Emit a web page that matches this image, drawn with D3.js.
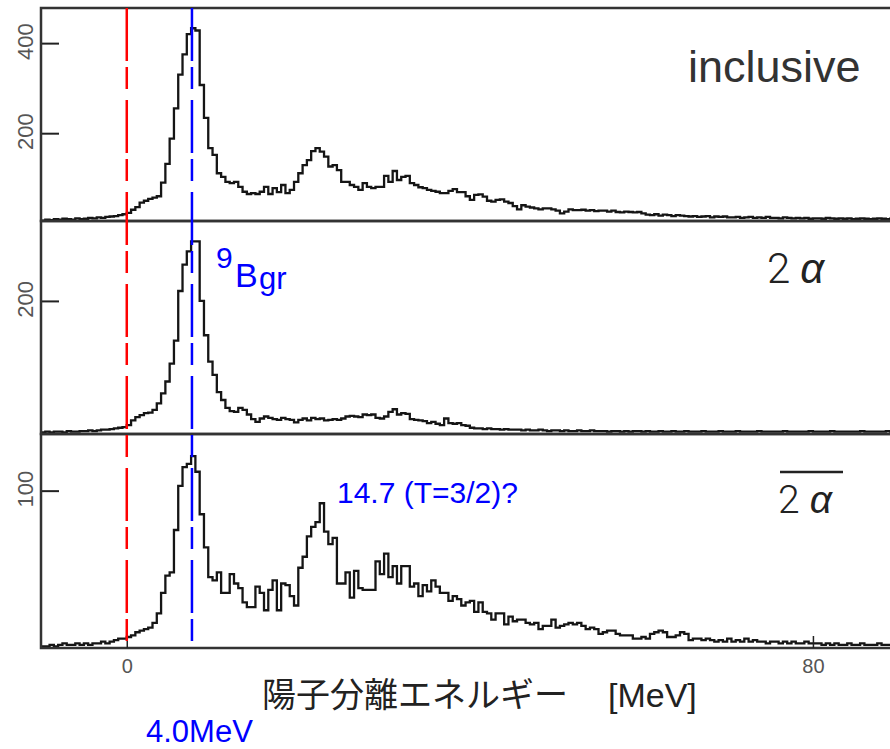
<!DOCTYPE html>
<html>
<head>
<meta charset="utf-8">
<script src="https://cdn.jsdelivr.net/npm/d3@7"></script>
<style>
  body { margin: 0; background: #fff; }
  text { font-family: "Liberation Sans", Arial, sans-serif; }
</style>
</head>
<body>
<svg id="chart" width="890" height="749"></svg>
<script>
// Histogram bins: 0.5 MeV wide, first bin starts at -10 MeV
const binStart = -10;
const binWidth = 0.5;

// counts per bin
const inclusiveCounts = [
  6,8,7,9,8,10,9,8,11,9,
  10,12,11,13,12,14,15,16,18,
  20,23,30,36,46,50,54,57,60,90,132,
  188,255,330,375,420,433,428,307,234,167,
  152,111,103,92,89,92,81,70,65,67,
  65,70,81,65,78,69,85,67,74,92,
  111,129,140,160,167,159,148,126,129,118,
  92,92,85,81,74,89,81,78,81,81,
  105,92,116,96,103,105,89,85,80,78,
  74,72,70,67,67,72,76,69,69,60,
  52,63,64,59,50,48,52,53,48,45,
  38,31,40,37,35,33,31,33,33,31,
  28,22,26,31,29,29,30,28,29,27,
  28,28,26,28,25,24,26,25,24,25,
  22,19,18,20,17,19,18,16,18,17,
  16,15,16,14,15,16,13,15,14,15,
  13,13,14,12,13,14,12,13,12,14,
  12,12,11,13,12,11,12,11,12,10,
  11,11,10,12,11,10,11,10,11,9,
  10,11,10,9,10,11,10,9,10,9
];

const twoAlphaCounts = [
  1,2,1,2,2,1,3,2,2,3,
  3,4,3,4,5,5,6,7,8,
  9,12,19,24,27,30,31,35,45,60,78,
  105,140,215,255,275,290,290,200,148,108,
  88,62,50,38,33,32,38,35,28,21,
  17,22,25,23,21,20,23,21,20,16,
  20,22,19,23,21,22,19,20,21,20,
  22,25,26,25,24,28,27,28,23,22,
  25,32,36,28,30,29,21,20,19,18,
  15,17,14,12,22,15,14,15,12,11,
  8,7,7,6,7,6,6,5,6,5,
  5,5,4,5,4,4,5,4,3,4,
  4,3,4,3,3,4,3,3,4,3,
  3,3,2,3,3,2,3,2,3,3,
  2,3,2,2,3,2,2,3,2,2,
  3,2,2,2,3,2,2,2,3,2,
  2,2,3,2,2,2,2,3,2,2,
  2,2,2,3,2,2,2,2,2,3,
  2,2,2,2,3,2,2,2,2,2,
  2,3,2,2,2,2,2,3,2,2
];

const notTwoAlphaCounts = [
  1,1,2,1,2,3,2,2,3,2,
  3,2,3,3,4,3,4,5,6,
  6,7,8,10,11,12,13,16,22,35,46,
  48,75,103,115,117,122,112,85,64,45,
  43,48,35,35,47,41,38,29,26,26,
  39,35,24,37,43,24,41,40,33,27,
  51,58,71,77,80,92,74,66,70,41,
  41,48,32,49,38,37,37,37,55,47,
  60,45,52,41,52,52,39,41,33,40,
  36,43,39,35,35,30,33,31,27,29,
  30,23,29,23,22,18,22,22,15,20,
  17,18,18,16,15,16,12,14,14,18,
  13,14,15,16,15,16,14,12,13,12,
  9,10,11,11,9,8,8,8,6,6,
  7,6,9,10,11,10,7,7,8,10,
  9,5,6,6,5,6,5,4,5,4,
  6,4,5,4,6,4,5,4,4,3,
  4,4,3,4,3,4,3,3,4,3,
  3,3,2,3,2,3,2,2,3,2,
  2,3,2,2,2,3,2,2,2,2
];

const xDomain = [-10, 90];
const xTickValues = [0, 80];
const yDomains = [[5, 478], [-1.5, 321], [0, 136]];
const yTickValues = [[200, 400], [200], [100]];
const markerEnergies = [0, 7.6];          // threshold line, 9B ground state line
const markerColors = ["#ff0000", "#0000ff"];

const svg = d3.select("#chart");

// layout of the three stacked panels
const left = 41, right = 898.7;
const panelTops = [8, 221, 434];
const panelBottoms = [221, 434, 648];

const x = d3.scaleLinear().domain(xDomain).range([left, right]);

const series = [inclusiveCounts, twoAlphaCounts, notTwoAlphaCounts];

series.forEach((counts, p) => {
    const y = d3.scaleLinear()
        .domain(yDomains[p])
        .range([panelBottoms[p], panelTops[p]]);

    const g = svg.append("g");

    // clip the histogram to its own panel
    g.append("clipPath")
        .attr("id", "clip" + p)
        .append("rect")
        .attr("x", left)
        .attr("y", panelTops[p])
        .attr("width", right - left)
        .attr("height", panelBottoms[p] - panelTops[p]);

    const pts = counts.map((v, i) => [binStart + i * binWidth, v]);
    pts.push([binStart + counts.length * binWidth, counts[counts.length - 1]]);

    const line = d3.line()
        .x(d => x(d[0]))
        .y(d => y(d[1]))
        .curve(d3.curveStepAfter);

    g.append("path")
        .datum(pts)
        .attr("clip-path", `url(#clip${p})`)
        .attr("fill", "none")
        .attr("stroke", "#151515")
        .attr("stroke-width", 2.3)
        .attr("d", line);

    // y axis: ticks pointing inwards, rotated labels
    const yAxis = g.append("g")
        .attr("transform", `translate(${left},0)`)
        .call(d3.axisLeft(y).tickValues(yTickValues[p]).tickSize(-18).tickFormat(d3.format("d")));
    yAxis.select(".domain").remove();
    yAxis.selectAll("line").attr("stroke", "#222").attr("stroke-width", 2);
    yAxis.selectAll("text")
        .attr("transform", "rotate(-90)")
        .attr("x", 2)
        .attr("y", -8)
        .attr("dy", 0)
        .attr("text-anchor", "middle")
        .attr("fill", "#555")
        .style("font-size", "22px")
        .style("font-family", "'Liberation Sans', Arial, sans-serif");

    // frame
    g.append("rect")
        .attr("x", left)
        .attr("y", panelTops[p])
        .attr("width", right - left)
        .attr("height", panelBottoms[p] - panelTops[p])
        .attr("fill", "none")
        .attr("stroke", "#333")
        .attr("stroke-width", 2.5);
});

// bottom energy axis
const xAxis = svg.append("g")
    .attr("transform", `translate(0,${panelBottoms[2]})`)
    .call(d3.axisBottom(x).tickValues(xTickValues).tickSizeInner(-12).tickSizeOuter(0).tickPadding(11));
xAxis.select(".domain").remove();
xAxis.selectAll("line").attr("stroke", "#222").attr("stroke-width", 1.5);
xAxis.selectAll("text")
    .attr("fill", "#555")
    .style("font-size", "20px")
    .style("font-family", "'Liberation Sans', Arial, sans-serif");

// dashed marker lines
svg.selectAll(".marker")
    .data(markerEnergies)
    .enter()
    .append("line")
    .attr("class", "marker")
    .attr("x1", d => x(d))
    .attr("x2", d => x(d))
    .attr("y1", panelTops[0])
    .attr("y2", panelBottoms[2])
    .attr("stroke", (d, i) => markerColors[i])
    .attr("stroke-width", 2.5)
    .attr("stroke-dasharray", "53,6,22,11");

// panel labels
svg.append("text")
    .attr("x", 688).attr("y", 82)
    .attr("fill", "#333")
    .style("font-size", "45px")
    .text("inclusive");

svg.append("text")
    .attr("x", 767).attr("y", 283)
    .attr("fill", "#222")
    .style("font-size", "42px")
    .style("font-weight", 300)
    .style("font-family", "Roboto, 'Liberation Sans', sans-serif")
    .text("2")
    .append("tspan")
    .attr("dx", 10)
    .style("font-style", "italic")
    .style("font-weight", 400)
    .style("font-family", "'Liberation Sans', Arial, sans-serif")
    .text("α");

svg.append("text")
    .attr("x", 778).attr("y", 513)
    .attr("fill", "#222")
    .style("font-size", "39px")
    .style("font-weight", 300)
    .style("font-family", "Roboto, 'Liberation Sans', sans-serif")
    .text("2")
    .append("tspan")
    .attr("dx", 10)
    .style("font-style", "italic")
    .style("font-weight", 400)
    .style("font-family", "'Liberation Sans', Arial, sans-serif")
    .text("α");

svg.append("line")
    .attr("x1", 780).attr("x2", 843)
    .attr("y1", 472).attr("y2", 472)
    .attr("stroke", "#222")
    .attr("stroke-width", 2.5);

// blue annotations
const blue = "#0000ff";
const gs = svg.append("text").attr("fill", blue);
gs.append("tspan").attr("x", 216).attr("y", 268).style("font-size", "30px").text("9");
gs.append("tspan").attr("x", 235).attr("y", 287).style("font-size", "34px").text("B");
gs.append("tspan").attr("x", 259).attr("y", 289).style("font-size", "31px").text("gr");

svg.append("text")
    .attr("x", 337).attr("y", 503)
    .attr("fill", blue)
    .style("font-size", "30px")
    .text("14.7 (T=3/2)?");

svg.append("text")
    .attr("x", 146).attr("y", 742)
    .attr("fill", blue)
    .style("font-size", "31px")
    .text("4.0MeV");

// x axis title
svg.append("text")
    .attr("x", 262).attr("y", 707)
    .attr("fill", "#222")
    .style("font-size", "34px")
    .style("font-family", "'Noto Sans CJK JP', sans-serif")
    .text("陽子分離エネルギー");

svg.append("text")
    .attr("x", 608).attr("y", 707)
    .attr("fill", "#222")
    .style("font-size", "34px")
    .text("[MeV]");
</script>
</body>
</html>
